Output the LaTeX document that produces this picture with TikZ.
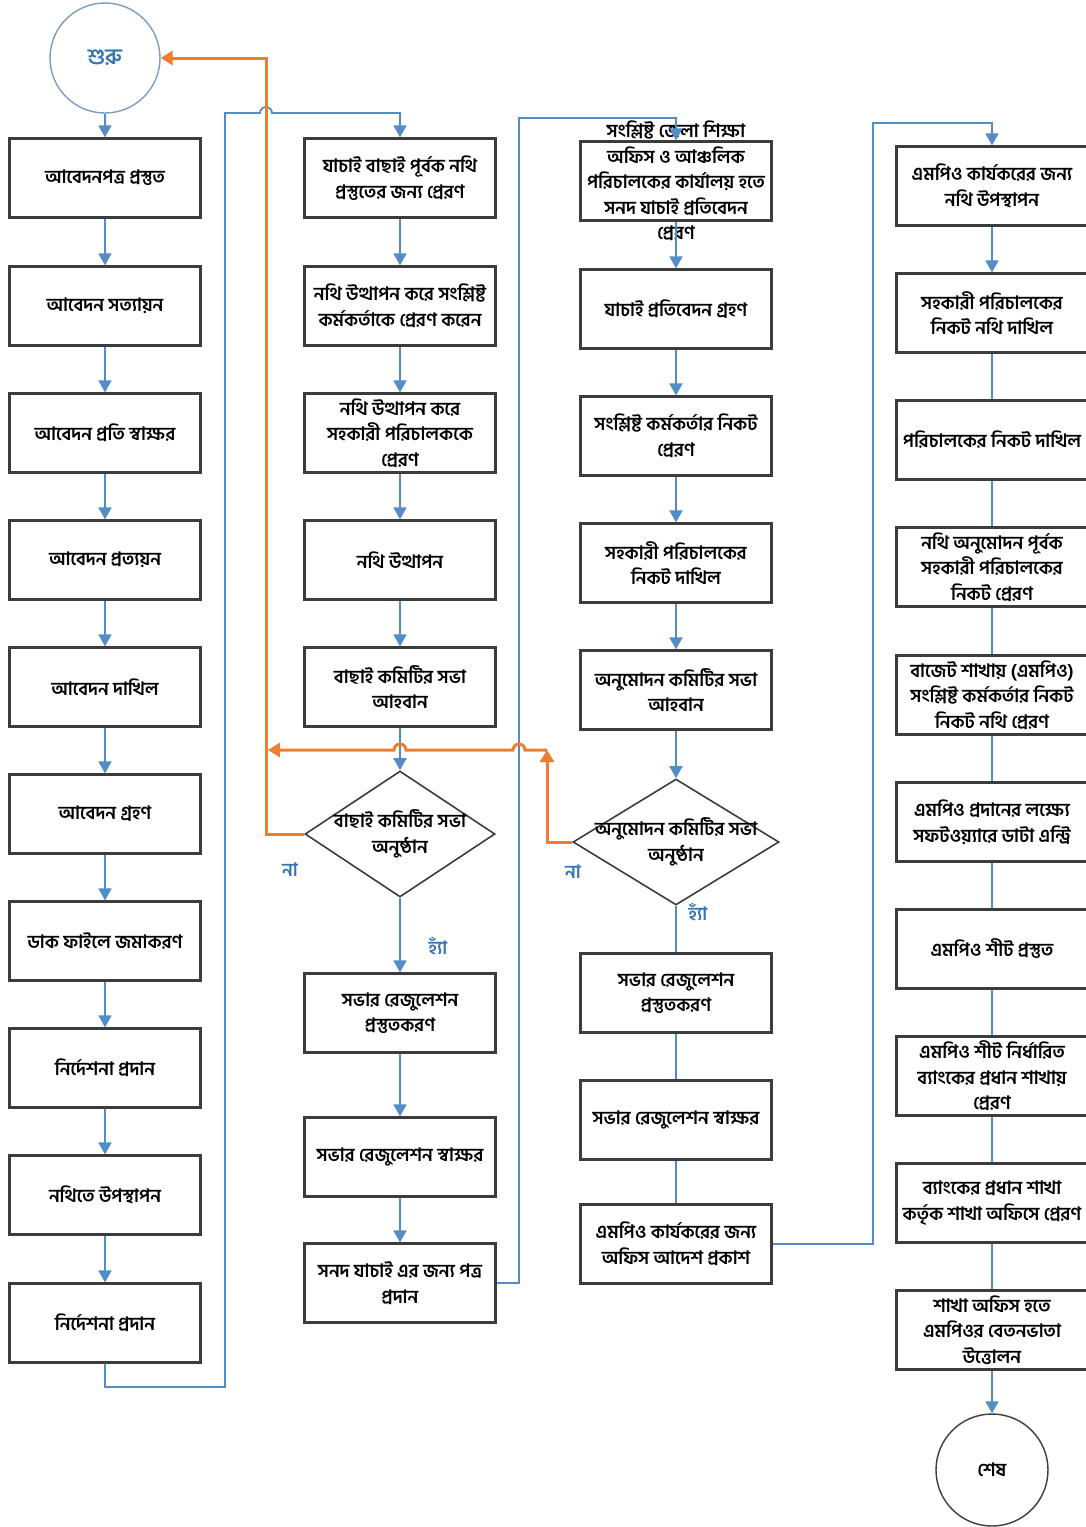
\documentclass[tikz,border=0pt]{standalone}
\usepackage{fontspec}
\newfontfamily\bn[Script=Bengali]{Hind Siliguri}
\usetikzlibrary{shapes.geometric,arrows.meta}
\definecolor{flowblue}{RGB}{84,141,197}
\definecolor{backorange}{RGB}{237,125,49}
\definecolor{boxgray}{RGB}{60,60,60}
\definecolor{ringblue}{RGB}{125,155,195}
\definecolor{textblue}{RGB}{52,118,180}
\begin{document}
\begin{tikzpicture}[x=0.5pt,y=-0.5pt,
  every node/.style={font=\bn\bfseries\fontsize{9.2}{12.8}\selectfont},
  box/.style={draw=boxgray,line width=1.1pt,minimum width=95.5pt,minimum height=39.5pt,inner sep=0pt,align=center},
  ask/.style={draw=boxgray,line width=0.8pt,diamond,inner sep=0pt,minimum height=63pt},
  ring/.style={circle,line width=0.7pt,minimum size=#1},
  txt/.style={align=center,inner sep=0pt},
  link/.style={flowblue,line width=0.9pt},
  flow/.style={link,-{Triangle[width=6.5pt,length=6pt]}},
  back/.style={backorange,line width=1.5pt},
  tag/.style={textblue,inner sep=0pt}]
%\draw[step=50,gray,very thin] (0,0) grid (1086,1527);
\fill[white] (0,0) rectangle (1086,1527);
\useasboundingbox (0,0) rectangle (1086,1527);

% first column
\node[ring=55pt,draw=ringblue,text=textblue,font=\bn\bfseries\fontsize{11}{13}\selectfont] (s) at (105,58) {শুরু};
\node[box] (a1) at (105,178) {আবেদনপত্র প্রস্তুত};
\node[box] (a2) at (105,306) {আবেদন সত্যায়ন};
\node[box] (a3) at (105,433) {আবেদন প্রতি স্বাক্ষর};
\node[box] (a4) at (105,560) {আবেদন প্রত্যয়ন};
\node[box] (a5) at (105,687) {আবেদন দাখিল};
\node[box] (a6) at (105,814) {আবেদন গ্রহণ};
\node[box] (a7) at (105,941) {ডাক ফাইলে জমাকরণ};
\node[box] (a8) at (105,1068) {নির্দেশনা প্রদান};
\node[box] (a9) at (105,1195) {নথিতে উপস্থাপন};
\node[box] (a10) at (105,1323) {নির্দেশনা প্রদান};

% second column
\node[box] (b1) at (400,178) {যাচাই বাছাই পূর্বক নথি\\প্রস্তুতের জন্য প্রেরণ};
\node[box] (b2) at (400,306) {নথি উত্থাপন করে সংশ্লিষ্ট\\কর্মকর্তাকে প্রেরণ করেন};
\node[box] (b3) at (400,433) {নথি উত্থাপন করে\\সহকারী পরিচালককে\\প্রেরণ};
\node[box] (b4) at (400,560) {নথি উত্থাপন};
\node[box] (b5) at (400,687) {বাছাই কমিটির সভা\\আহবান};
\node[ask,minimum width=95pt] (d1) at (400,834) {};
\node[txt] (d1t) at (400,834) {বাছাই কমিটির সভা\\অনুষ্ঠান};
\node[box] (b6) at (400,1013) {সভার রেজুলেশন\\প্রস্তুতকরণ};
\node[box] (b7) at (400,1157) {সভার রেজুলেশন স্বাক্ষর};
\node[box] (b8) at (400,1283) {সনদ যাচাই এর জন্য পত্র\\প্রদান};

% third column
\node[box] (c1) at (676,181) {};
\node[txt] (c1t) at (676,181) {সংশ্লিষ্ট জেলা শিক্ষা\\অফিস ও আঞ্চলিক\\পরিচালকের কার্যালয় হতে\\সনদ যাচাই প্রতিবেদন\\প্রেরণ};
\node[box] (c2) at (676,309) {যাচাই প্রতিবেদন গ্রহণ};
\node[box] (c3) at (676,436) {সংশ্লিষ্ট কর্মকর্তার নিকট\\প্রেরণ};
\node[box] (c4) at (676,563) {সহকারী পরিচালকের\\নিকট দাখিল};
\node[box] (c5) at (676,690) {অনুমোদন কমিটির সভা\\আহবান};
\node[ask,minimum width=103pt] (d2) at (676,842) {};
\node[txt] (d2t) at (676,842) {অনুমোদন কমিটির সভা\\অনুষ্ঠান};
\node[box] (c6) at (676,993) {সভার রেজুলেশন\\প্রস্তুতকরণ};
\node[box] (c7) at (676,1120) {সভার রেজুলেশন স্বাক্ষর};
\node[box] (c8) at (676,1244) {এমপিও কার্যকরের জন্য\\অফিস আদেশ প্রকাশ};

% fourth column
\node[box] (e1) at (992,186) {এমপিও কার্যকরের জন্য\\নথি উপস্থাপন};
\node[box] (e2) at (992,313) {সহকারী পরিচালকের\\নিকট নথি দাখিল};
\node[box] (e3) at (992,440) {পরিচালকের নিকট দাখিল};
\node[box] (e4) at (992,567) {নথি অনুমোদন পূর্বক\\সহকারী পরিচালকের\\নিকট প্রেরণ};
\node[box] (e5) at (992,695) {বাজেট শাখায় (এমপিও)\\সংশ্লিষ্ট কর্মকর্তার নিকট\\নিকট নথি প্রেরণ};
\node[box] (e6) at (992,822) {এমপিও প্রদানের লক্ষ্যে\\সফটওয়্যারে ডাটা এন্ট্রি};
\node[box] (e7) at (992,949) {এমপিও শীট প্রস্তুত};
\node[box] (e8) at (992,1076) {এমপিও শীট নির্ধারিত\\ব্যাংকের প্রধান শাখায়\\প্রেরণ};
\node[box] (e9) at (992,1203) {ব্যাংকের প্রধান শাখা\\কর্তৃক শাখা অফিসে প্রেরণ};
\node[box] (e10) at (992,1330) {শাখা অফিস হতে\\এমপিওর বেতনভাতা\\উত্তোলন};
\node[ring=56pt,draw=boxgray] (f) at (992,1470) {শেষ};

% yes / no
\node[tag] (n1) at (290,870) {না};
\node[tag] (y1) at (438,946) {হ্যাঁ};
\node[tag] (n2) at (573,872) {না};
\node[tag] (y2) at (698,912) {হ্যাঁ};

% bend points
\coordinate (k1) at (225,1387);
\coordinate (k2) at (225,113);
\coordinate (k3) at (519,118);
\coordinate (k4) at (873,123);
\coordinate (o1) at (266,58);
\coordinate (o2) at (547,750);
\coordinate (o3) at (268,750);

% blue arrows
\draw[flow] (s) -- (a1);
\draw[flow] (a1) -- (a2);
\draw[flow] (a2) -- (a3);
\draw[flow] (a3) -- (a4);
\draw[flow] (a4) -- (a5);
\draw[flow] (a5) -- (a6);
\draw[flow] (a6) -- (a7);
\draw[flow] (a7) -- (a8);
\draw[flow] (a8) -- (a9);
\draw[flow] (a9) -- (a10);
\draw[flow] (a10.south) |- (k1) -- (k2) -- (260,113) arc[start angle=180,end angle=360,radius=6] -| (b1.north);

\draw[flow] (b1) -- (b2);
\draw[flow] (b2) -- (b3);
\draw[flow] (b3) -- (b4);
\draw[flow] (b4) -- (b5);
\draw[flow] (b5) -- (d1);
\draw[flow] (d1) -- (b6);
\draw[flow] (b6) -- (b7);
\draw[flow] (b7) -- (b8);
\draw[flow] (b8.east) -| (k3) -| (c1.north);

\draw[flow] (c1) -- (c2);
\draw[flow] (c2) -- (c3);
\draw[flow] (c3) -- (c4);
\draw[flow] (c4) -- (c5);
\draw[flow] (c5) -- (d2);
\draw[link] (d2) -- (c6);
\draw[link] (c6) -- (c7);
\draw[link] (c7) -- (c8);
\draw[flow] (c8.east) -| (k4) -| (e1.north);

\draw[flow] (e1) -- (e2);
\draw[link] (e2) -- (e3);
\draw[link] (e3) -- (e4);
\draw[link] (e4) -- (e5);
\draw[link] (e5) -- (e6);
\draw[link] (e6) -- (e7);
\draw[link] (e7) -- (e8);
\draw[link] (e8) -- (e9);
\draw[link] (e9) -- (e10);
\draw[flow] (e10) -- (f);

% orange: back to start
\draw[back,-{Triangle[width=7pt,length=6pt]}] (d1.west) -| (o1) -- (s.east);
\draw[back,-{Triangle[width=7pt,length=6pt]}] (d2.west) -| (o2);
\draw[back,-{Triangle[width=7pt,length=6pt]}] (o2) -- (525,750) arc[start angle=0,end angle=-180,radius=6] -- (406,750) arc[start angle=0,end angle=-180,radius=6] -- (o3);
\end{tikzpicture}
\end{document}
